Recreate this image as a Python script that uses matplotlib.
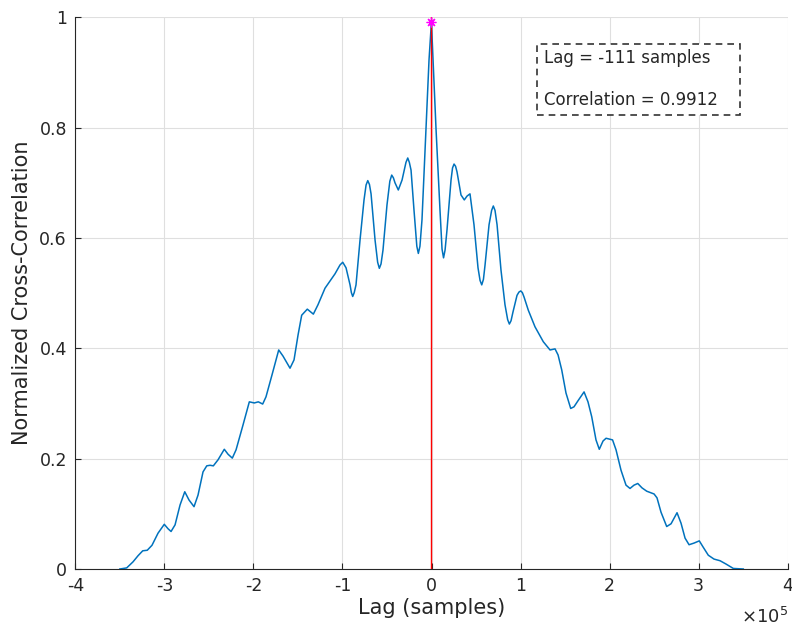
import matplotlib
matplotlib.use("Agg")
import matplotlib.pyplot as plt
from matplotlib.patches import Rectangle
import numpy as np

# Cross-correlation curve, lag in units of 1e5 samples
lag_e5 = [
    -3.500, -3.423, -3.352, -3.296, -3.243, -3.192, -3.139, -3.071, -3.001, -2.959,
    -2.925, -2.880, -2.824, -2.771, -2.723, -2.667, -2.622, -2.566, -2.524, -2.487,
    -2.450, -2.397, -2.327, -2.285, -2.237, -2.195, -2.117, -2.046, -1.990, -1.945,
    -1.896, -1.859, -1.791, -1.716, -1.668, -1.589, -1.544, -1.499, -1.458, -1.395,
    -1.327, -1.275, -1.196, -1.084, -1.028, -0.997, -0.960, -0.915, -0.900, -0.885,
    -0.868, -0.848, -0.803, -0.758, -0.735, -0.716, -0.697, -0.679, -0.634, -0.605,
    -0.586, -0.567, -0.545, -0.500, -0.468, -0.447, -0.428, -0.410, -0.373, -0.331,
    -0.287, -0.267, -0.249, -0.230, -0.197, -0.165, -0.148, -0.130, -0.107, -0.062,
    -0.028, -0.00111, 0.017, 0.051, 0.095, 0.118, 0.135, 0.152, 0.174, 0.219,
    0.236, 0.253, 0.270, 0.286, 0.331, 0.368, 0.399, 0.432, 0.477, 0.522,
    0.545, 0.564, 0.583, 0.601, 0.646, 0.675, 0.694, 0.713, 0.736, 0.780,
    0.825, 0.855, 0.874, 0.893, 0.915, 0.960, 0.982, 1.002, 1.020, 1.039,
    1.087, 1.162, 1.255, 1.331, 1.387, 1.421, 1.462, 1.510, 1.563, 1.600,
    1.645, 1.713, 1.757, 1.799, 1.847, 1.884, 1.926, 1.960, 2.033, 2.072,
    2.128, 2.184, 2.229, 2.274, 2.316, 2.364, 2.417, 2.499, 2.532, 2.577,
    2.641, 2.690, 2.757, 2.802, 2.847, 2.892, 2.948, 3.007, 3.049, 3.108,
    3.172, 3.240, 3.307, 3.389, 3.501,
]
corr = [
    0.000, 0.002, 0.013, 0.024, 0.033, 0.034, 0.043, 0.065, 0.081, 0.073,
    0.068, 0.080, 0.116, 0.140, 0.125, 0.113, 0.134, 0.176, 0.187, 0.188,
    0.187, 0.198, 0.217, 0.208, 0.201, 0.216, 0.261, 0.303, 0.301, 0.303,
    0.299, 0.312, 0.352, 0.397, 0.386, 0.364, 0.379, 0.424, 0.460, 0.471,
    0.462, 0.479, 0.509, 0.535, 0.551, 0.556, 0.546, 0.515, 0.501, 0.494,
    0.501, 0.515, 0.596, 0.669, 0.696, 0.704, 0.697, 0.680, 0.596, 0.556,
    0.545, 0.553, 0.578, 0.660, 0.703, 0.714, 0.709, 0.700, 0.687, 0.705,
    0.737, 0.745, 0.737, 0.723, 0.651, 0.585, 0.572, 0.585, 0.633, 0.796,
    0.923, 0.9912, 0.923, 0.796, 0.651, 0.580, 0.564, 0.578, 0.615, 0.705,
    0.727, 0.734, 0.730, 0.720, 0.678, 0.669, 0.676, 0.680, 0.624, 0.546,
    0.523, 0.515, 0.525, 0.551, 0.624, 0.650, 0.658, 0.650, 0.624, 0.542,
    0.479, 0.452, 0.444, 0.450, 0.466, 0.496, 0.502, 0.504, 0.501, 0.493,
    0.469, 0.439, 0.412, 0.397, 0.399, 0.388, 0.361, 0.319, 0.291, 0.294,
    0.305, 0.321, 0.303, 0.276, 0.234, 0.217, 0.232, 0.237, 0.234, 0.216,
    0.179, 0.152, 0.146, 0.152, 0.155, 0.147, 0.141, 0.136, 0.129, 0.103,
    0.077, 0.082, 0.102, 0.083, 0.056, 0.044, 0.047, 0.051, 0.040, 0.025,
    0.018, 0.015, 0.009, 0.001, 0.000,
]

peak_lag = -111          # samples
peak_corr = 0.9912

x_ticks = [-4, -3, -2, -1, 0, 1, 2, 3, 4]
y_ticks = [0, 0.2, 0.4, 0.6, 0.8, 1]
y_tick_labels = ["0", "0.2", "0.4", "0.6", "0.8", "1"]

lags = np.array(lag_e5) * 1e5

plt.rcParams["font.family"] = ["DejaVu Sans"]
fig = plt.figure(figsize=(7.92, 6.27), dpi=100)
ax = fig.add_axes([0.0951, 0.0925, 0.8995, 0.8799])

ax.plot(lags, corr, color="#0072BD", linewidth=1.1, zorder=3)
ax.axvline(peak_lag, color="#FF0000", linewidth=1.0, zorder=4)
ax.plot([peak_lag], [peak_corr], linestyle="none", marker=(8, 2, 0),
        markersize=7, markeredgewidth=0.9, color="#FF00FF", zorder=5)

ax.set_xlim(-4e5, 4e5)
ax.set_ylim(0, 1)
ax.set_xticks([t * 1e5 for t in x_ticks])
ax.set_xticklabels([str(t) for t in x_ticks])
ax.set_yticks(y_ticks)
ax.set_yticklabels(y_tick_labels)

ax.grid(True, color="#DFDFDF", linewidth=0.8)
ax.set_axisbelow(True)
for side in ("top", "right"):
    ax.spines[side].set_visible(False)
for side in ("left", "bottom"):
    ax.spines[side].set_color("#262626")
    ax.spines[side].set_linewidth(0.8)
ax.tick_params(direction="in", length=4, width=0.8, colors="#262626",
               labelsize=12.5, pad=6)

ax.set_xlabel("Lag (samples)", fontsize=15, color="#262626", labelpad=2)
ax.set_ylabel("Normalized Cross-Correlation", fontsize=15, color="#262626",
              labelpad=5)
ax.text(1.0, -0.069, r"$\times10^{5}$", transform=ax.transAxes, ha="right",
        va="top", fontsize=13, color="#262626")

# Annotation box with the peak lag and correlation
ax.add_patch(Rectangle((0.648, 0.823), 0.285, 0.129, transform=ax.transAxes,
                       facecolor="white", edgecolor="#333333", linewidth=1.2,
                       linestyle=(0, (4, 3)), zorder=6))
ax.text(0.658, 0.926, f"Lag = {peak_lag} samples", transform=ax.transAxes,
        ha="left", va="center", fontsize=12, color="#262626", zorder=7)
ax.text(0.658, 0.850, f"Correlation = {peak_corr:.4f}", transform=ax.transAxes,
        ha="left", va="center", fontsize=12, color="#262626", zorder=7)

fig.savefig("out.png", dpi=100)
